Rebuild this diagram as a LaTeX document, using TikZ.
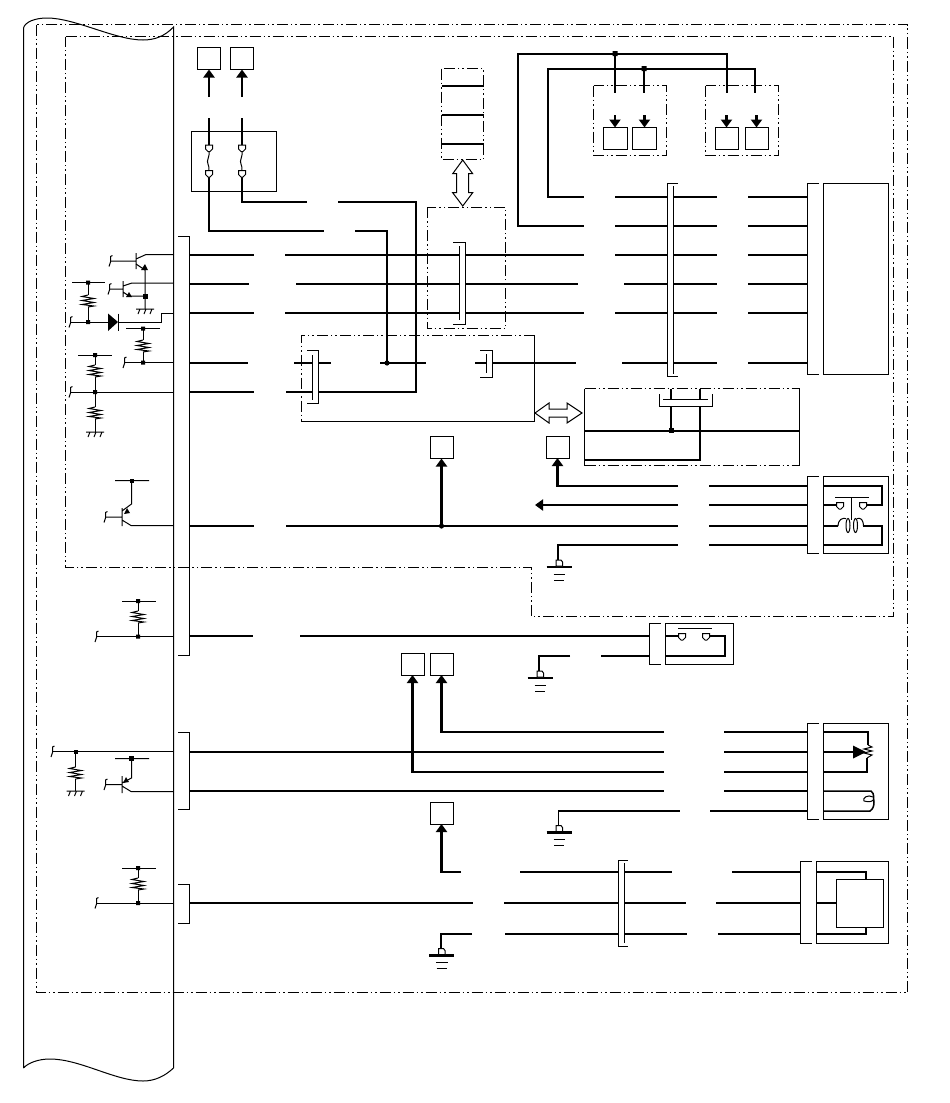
\documentclass[tikz,border=0pt]{standalone}
\usetikzlibrary{arrows.meta}
\tikzset{
  x=1pt,y=-1pt,
  thinw/.style={line width=1pt},
  wire/.style={line width=2.2pt},
  midw/.style={line width=1.5pt},
  dashdot/.style={line width=1pt,dash pattern=on 11pt off 3pt on 1.5pt off 3pt on 1.5pt off 3pt},
  arr/.style={-{Triangle[width=11pt,length=8pt]}},
  termbox/.style={draw,line width=1pt,fill=white,minimum width=23pt,minimum height=22pt,inner sep=0pt,outer sep=0pt},
  dot/.style={fill=black,draw=none},
  pics/resist/.style={code={\draw[thinw] (0,0)--(-6,1.5)--(6,3.5)--(-6,5.5)--(6,7.5)--(-6,9.5)--(6,11)--(0,12);}},
  pics/hatch/.style={code={\draw[thinw] (-9,0)--(9,0) (-5,0)--(-7,5) (1,0)--(-1,5) (7,0)--(5,5);}},
  pics/hookend/.style={code={\draw[thinw] (2.5,-5.5)--(0.5,-4.5)--(0.5,1)--(-1,5.5);}},
  pics/term/.style={code={\draw[thinw,fill=white] (-3.5,-3)--(3.5,-3)--(3.5,1)--(1,3.5)--(-1,3.5)--(-3.5,1)--cycle;}},
  pics/gnd/.style={code={
    \draw[wire] (-12.5,0)--(12.5,0);
    \draw[thinw] (-5.5,7)--(6,7) (-5,13)--(5,13);
    \draw[thinw,fill=white] (-3,-7)--(2,-7)--(3.5,-5)--(3.5,-1)--(-3,-1)--cycle;}},
}
\begin{document}
\begin{tikzpicture}[line cap=butt,line join=miter]
\useasboundingbox (0,0) rectangle (950,1103);
% cut-away strip
\draw[thinw] (23.5,1068)--(23.5,28) .. controls (25,22) and (35,18) .. (47,18) .. controls (75,18) and (115,40) .. (143,40) .. controls (155,40) and (165,36) .. (173.5,27) -- (173.5,1068) .. controls (165,1076) and (155,1081) .. (143,1081) .. controls (115,1081) and (80,1059) .. (50,1059) .. controls (38,1059) and (28,1063) .. (23.5,1068);
% dash-dot housings
\draw[dashdot] (36.5,24.5) rectangle (907.5,992.5);
\draw[dashdot] (65.5,36.5)--(893.5,36.5)--(893.5,616.5)--(531.5,616.5)--(531.5,567)--(65.5,567)--cycle;
\draw[dashdot] (593.5,85.5) rectangle (666.5,155.5);
\draw[dashdot] (705.5,85.5) rectangle (778.5,155.5);
\draw[dashdot] (441.5,68.5) rectangle (483.5,159.5);
\draw[dashdot] (427,207) rectangle (505.5,328.5);
\draw[dashdot] (534.5,335)--(301,335)--(301,421);
\draw[thinw] (301,421)--(534.5,421)--(534.5,335);
\draw[dashdot] (584.5,388.5)--(799.5,388.5) (584.5,465.5)--(799.5,465.5);
\draw[thinw] (584.5,388.5)--(584.5,465.5) (799.5,388.5)--(799.5,465.5);
% terminal boxes
\node[termbox] (ta) at (209,58.5) {};
\node[termbox] (tb) at (242,58.5) {};
\node[termbox,minimum width=24pt] (b1) at (615,138.5) {};
\node[termbox,minimum width=24pt] (b2) at (644.5,138.5) {};
\node[termbox,minimum width=23pt] (b3) at (726.5,138.5) {};
\node[termbox,minimum width=23pt] (b4) at (756.5,138.5) {};
\node[termbox] (c1) at (441.5,447.5) {};
\node[termbox] (c2) at (557.5,447) {};
\node[termbox] (d1) at (412.5,664) {};
\node[termbox] (d2) at (441.5,664) {};
\node[termbox] (e1) at (441.5,813) {};
% arrows to the boxes
\coordinate (fa) at (ta.south |- 0,97);
\coordinate (fb) at (tb.south |- 0,97);
\draw[wire,arr] (fa)--(ta.south);
\draw[wire,arr] (fb)--(tb.south);
\foreach \n/\xx in {b1/615,b2/644.5,b3/726.5,b4/756.5}{
  \coordinate (s\n) at (\n.north |- 0,115);
  \draw[wire,arr] (s\n)--(\n.north);
}
\coordinate (j525) at (c1.south |- 0,526);
\draw[wire,arr] (j525)--(c1.south);
\draw[wire,arr] (678,486)-|(c2.south);
\draw[wire,arr] (664,772)-|(d1.south);
\draw[wire,arr] (664,732)-|(d2.south);
\draw[wire,arr] (461,872)-|(e1.south);
\coordinate (la) at (678,505); \coordinate (lb) at (535,505);
\draw[wire,arr] (la)--(lb);
% fuse block
\node[draw,line width=1pt,minimum width=85pt,minimum height=60pt,inner sep=0,outer sep=0] (fuse) at (233.5,161) {};
\draw[wire] (209,118)--(209,148) (242,118)--(242,148);
\draw[wire] (209,173)--(209,231)--(324,231);
\draw[wire] (242,173)--(242,202)--(307,202);
\foreach \xx in {209,242}{
  \draw[thinw] (\xx,150) .. controls (\xx+1,158) and (\xx-3,160) .. (\xx-1,164) .. controls (\xx+1,166) and (\xx-1,168) .. (\xx,171);
  \pic at (\xx,148) {term};
  \pic at (\xx,173.5) {term};
}
% stack
\draw[wire] (441.5,86)--(483.5,86) (441.5,115)--(483.5,115) (441.5,144)--(483.5,144);
% hollow double arrows
\draw[thinw,fill=white] (462.7,160)--(472.7,173.7)--(468.7,173.7)--(468.7,192.7)--(472.7,192.7)--(462.7,206)--(452.7,192.7)--(456.7,192.7)--(456.7,173.7)--(452.7,173.7)--cycle;
\draw[thinw,fill=white] (535,413)--(549,403)--(549,409)--(567,409)--(567,403)--(582,413)--(567,423)--(567,417)--(549,417)--(549,423)--cycle;
% top right buses
\draw[wire] (548,197)--(548,69)--(755,69)--(755,93);
\draw[wire] (518,226)--(518,54)--(727,54)--(727,93);
\draw[wire] (615,54)--(615,93) (644,69)--(644,93);
\fill[dot] (612.5,51) rectangle (617.5,56) (641.5,66) rectangle (646.5,71);
% long rows
\draw[wire] (547,197)--(584,197) (615,197)--(717,197) (748,197)--(808,197);
\draw[wire] (517,226)--(584,226) (615,226)--(717,226) (748,226)--(808,226);
\draw[wire] (189,255)--(254,255) (285,255)--(584,255) (615,255)--(717,255) (748,255)--(808,255);
\draw[wire] (189,284)--(249,284) (296,284)--(578,284) (624,284)--(717,284) (748,284)--(808,284);
\draw[wire] (189,313)--(254,313) (285,313)--(584,313) (615,313)--(717,313) (748,313)--(808,313);
\draw[wire] (189,363)--(248,363) (294,363)--(331,363) (380,363)--(426,363) (475,363)--(576,363) (622,363)--(717,363) (748,363)--(808,363);
\draw[wire] (189,392)--(254,392) (286,392)--(416,392)--(416,202)--(338,202);
\draw[wire] (355,231)--(387,231)--(387,363);
\fill[dot] (387,363) circle (2.6pt);
% connectors along the rows
\fill[white] (459.5,246) rectangle (465,321);
\draw[thinw] (453,242)--(465.5,242)--(465.5,324.5)--(453,324.5) (459.5,246)--(459.5,320);
\fill[white] (312.5,355) rectangle (318,400);
\draw[thinw] (307,350.5)--(318.5,350.5)--(318.5,403.5)--(307,403.5) (312.5,355)--(312.5,400);
\fill[white] (486.5,354) rectangle (492,373);
\draw[thinw] (480,350.5)--(492.5,350.5)--(492.5,377)--(480,377) (486.5,354)--(486.5,373);
\fill[white] (667.5,186) rectangle (673,373);
\draw[thinw] (678,183.5)--(667.5,183.5)--(667.5,376.5)--(678,376.5) (673.5,186)--(673.5,373.5);
% ECU at right
\draw[thinw] (819,183.5)--(807.5,183.5)--(807.5,374)--(819,374);
\draw[thinw] (823.5,183.5) rectangle (888,374);
% ECU brackets at left
\draw[thinw] (178,236)--(189,236)--(189,655)--(178,655);
\draw[thinw] (178,732.5)--(189,732.5)--(189,809.5)--(178,809.5);
\draw[thinw] (178,884.5)--(189,884.5)--(189,923.5)--(178,923.5);
% lower inner box
\draw[wire] (584.5,431)--(799.5,431);
\draw[wire] (584.5,460)--(700,460)--(700,388.5);
\draw[wire] (671,388.5)--(671,431);
\fill[white] (662,399.5) rectangle (712,406);
\draw[thinw] (659.5,394)--(659.5,406.5)--(712.5,406.5)--(712.5,394) (663,399.5)--(708,399.5);
\fill[dot] (668.5,427.5) rectangle (673.5,432.5);
% relay rows
\draw[wire] (709,486)--(808,486) (709,505)--(808,505);
\draw[wire] (189,526)--(254,526) (286,526)--(678,526) (709,526)--(808,526);
\draw[wire] (558,560)--(558,545)--(678,545) (709,545)--(808,545);
\fill[dot] (441.5,526) circle (2.6pt);
\pic at (559,567) {gnd};
% relay
\draw[thinw] (819,476.5)--(807.5,476.5)--(807.5,553.5)--(819,553.5);
\draw[thinw] (823.5,476.5) rectangle (888,553.5);
\draw[wire] (823.5,486)--(882,486)--(882,505)--(864,505);
\draw[wire] (823.5,505)--(837,505);
\draw[wire] (823.5,545)--(882,545)--(882,526)--(863,526);
\draw[wire] (823.5,526)--(838,526);
\draw[thinw] (835,497.5)--(869,497.5) (851.5,497.5)--(851.5,520);
\pic at (840,505.5) {term};
\pic at (863,505.5) {term};
\draw[thinw] (838,526) .. controls (838.5,519) and (842,518) .. (846,518.5);
\draw[thinw] (857,518.5) .. controls (861,518) and (863,519) .. (863.5,526);
\draw[thinw] (848,525.5) ellipse (2 and 7);
\draw[thinw] (855.5,525.5) ellipse (2 and 7);
% row 636
\draw[wire] (189,636)--(253,636) (300,636)--(650,636);
\draw[wire] (601,656)--(650,656);
\draw[thinw] (661,623)--(649.5,623)--(649.5,664)--(661,664);
\draw[thinw] (665.5,623) rectangle (733.5,664);
\draw[wire] (665.5,636)--(680,636) (708,636)--(725,636)--(725,656)--(665.5,656);
\draw[thinw] (678,628.5)--(712,628.5);
\pic at (682,636.5) {term};
\pic at (706,636.5) {term};
\draw[wire] (570,656)--(539,656)--(539,671);
\pic at (540,678) {gnd};
% sensor rows
\draw[wire] (189,752)--(664,752) (724,732)--(808,732) (724,752)--(808,752) (724,772)--(808,772);
\draw[wire] (189,791)--(664,791) (724,791)--(808,791);
\draw[midw] (558.5,826)--(558.5,811)--(680,811);
\draw[wire] (710,811)--(808,811);
\pic at (559,832.5) {gnd};
\draw[thinw] (819,723.5)--(807.5,723.5)--(807.5,819)--(819,819);
\draw[thinw] (823.5,723.5) rectangle (888,819);
\draw[wire] (823.5,732)--(868,732)--(868,745);
\draw[wire] (823.5,772)--(867,772)--(867,758);
\draw[wire] (823.5,752)--(854,752);
\fill (853,745.5)--(866,752)--(853,758.5)--cycle;
\draw[thinw] (868,745)--(872,747)--(864,749)--(872,751)--(864,753)--(872,755)--(867,758);
\draw[midw] (823.5,791)--(871,791) .. controls (875,794) and (873,798) .. (874,802) .. controls (874,806) and (873,809) .. (870,811) -- (823.5,811);
\draw[thinw] (873,797) .. controls (868,794) and (862,798) .. (864,801) .. controls (868,802) and (872,802) .. (873,800);
% last rows
\draw[wire] (189,903)--(473,903) (504,903)--(686,903) (716,903)--(800,903);
\draw[wire] (520,872)--(672,872) (732,872)--(800,872);
\draw[wire] (472,934)--(441,934)--(441,949) (505,934)--(687,934) (718,934)--(800,934);
\pic at (441.5,955.5) {gnd};
\fill[white] (618.5,863) rectangle (624,943);
\draw[thinw] (628,860.5)--(618,860.5)--(618,946)--(628,946) (624,863)--(624,943);
\draw[thinw] (812,861.5)--(800.5,861.5)--(800.5,943.5)--(812,943.5);
\draw[thinw] (816.5,861.5) rectangle (888,943.5);
\draw[wire] (816.5,872)--(866,872)--(866,879) (816.5,903)--(836,903) (816.5,934)--(866,934)--(866,927);
\draw[thinw,fill=white] (836.5,879.5) rectangle (883.5,927.5);
% left: transistors and resistors
\draw[thinw] (136,253)--(136,269) (110,261)--(136,261) (136,259)--(146,254.5)--(173.5,254.5);
\pic at (110,261) {hookend};
\draw[thinw] (136,264)--(145,270)--(145,309);
\fill (145,264)--(141,270)--(148,270)--cycle;
\pic at (145,309) {hatch};
\draw[thinw] (123,281)--(123,297) (109,289)--(123,289) (123,286)--(132,283)--(173.5,283) (123,292)--(129,296)--(145,296);
\pic at (109,289) {hookend};
\fill (129,292)--(126,297)--(132,297)--cycle;
\fill[dot] (142.5,293.5) rectangle (147.5,298.5);
% R1 and diode
\draw[thinw] (72,282.5)--(105,282.5) (88,282.5)--(88,295) (88,307)--(88,322) (70,322)--(108,322);
\pic at (88,295) {resist};
\pic at (70,322) {hookend};
\fill[dot] (86,280.5) rectangle (90,284.5) (86,320) rectangle (90,324);
\fill (108,313.5)--(118,322)--(108,331)--cycle;
\draw[thinw] (118.5,313.5)--(118.5,331) (118,322)--(161.5,322)--(161.5,313)--(173.5,313);
% R2
\draw[thinw] (126,328.5)--(160,328.5) (143,328.5)--(143,340) (143,352)--(143,362.5) (124,362.5)--(173.5,362.5);
\pic at (143,340) {resist};
\pic at (124,362.5) {hookend};
\fill[dot] (141,326.5) rectangle (145,330.5) (141,360.5) rectangle (145,364.5);
% R3 and R4
\draw[thinw] (78,355)--(112,355) (95,355)--(95,365) (95,377)--(95,407) (70,392)--(173.5,392) (95,419)--(95,432);
\pic at (95,365) {resist};
\pic at (95,407) {resist};
\pic at (70,392) {hookend};
\pic at (95,432) {hatch};
\fill[dot] (93,353) rectangle (97,357) (93,390) rectangle (97,394);
% transistor row 525
\draw[thinw] (115,480.5)--(149,480.5) (131.5,480.5)--(131.5,504)--(122,511) (122,508)--(122,526) (105,517)--(122,517) (122,520)--(131,525.5)--(173.5,525.5);
\pic at (105,517) {hookend};
\fill[dot] (129.5,478.5) rectangle (133.5,482.5);
\fill (124,514)--(127,508)--(130,513)--cycle;
% row 636 sensor
\draw[thinw] (122,601)--(156,601) (138,601)--(138,611) (138,623)--(138,636.5) (96,636.5)--(173.5,636.5);
\pic at (138,611) {resist};
\pic at (96,636.5) {hookend};
\fill[dot] (136,599) rectangle (140,603) (136,634.5) rectangle (140,638.5);
% row 752
\draw[thinw] (52,751.5)--(173.5,751.5) (75.5,751.5)--(75.5,767) (75.5,779)--(75.5,791);
\pic at (75.5,767) {resist};
\pic at (52,751.5) {hookend};
\pic at (75.5,791) {hatch};
\fill[dot] (73.5,749.5) rectangle (77.5,753.5);
% transistor row 791
\draw[thinw] (115,758.5)--(149,758.5) (131.5,758.5)--(131.5,778)--(122,783) (122,776)--(122,793) (105,784.5)--(122,784.5) (122,786)--(131,791.5)--(173.5,791.5);
\pic at (105,784.5) {hookend};
\fill[dot] (129,756) rectangle (134,761);
\fill (123,783)--(126,777)--(129,782)--cycle;
% row 903 sensor
\draw[thinw] (122,868)--(156,868) (138,868)--(138,878) (138,890)--(138,903) (96,903)--(173.5,903);
\pic at (138,878) {resist};
\pic at (96,903) {hookend};
\fill[dot] (136,866) rectangle (140,870) (136,901) rectangle (140,905);
\end{tikzpicture}
\end{document}
